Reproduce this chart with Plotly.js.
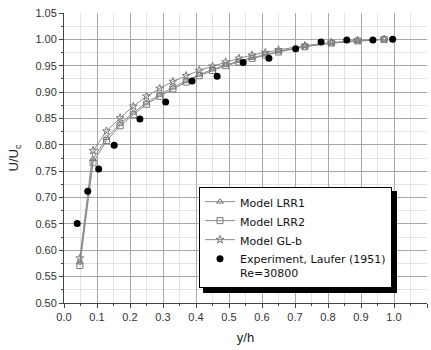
<!DOCTYPE html>
<html>
<head>
<meta charset="utf-8">
<script src="https://cdn.plot.ly/plotly-3.0.1.min.js"></script>
<style>
  html, body { margin: 0; padding: 0; background: #fff; }
  #chart { width: 431px; height: 350px; }
</style>
</head>
<body>
<div id="chart"></div>
<script>
// Mean velocity profile U/Uc across the channel half-height y/h
const modelY = [0.048, 0.088, 0.129, 0.17, 0.21, 0.25, 0.29, 0.33, 0.37, 0.41, 0.45, 0.49, 0.53, 0.57, 0.61, 0.65, 0.73, 0.81, 0.89, 0.97];
const lrr1U  = [0.577, 0.773, 0.813, 0.840, 0.861, 0.880, 0.895, 0.909, 0.921, 0.933, 0.943, 0.951, 0.959, 0.965, 0.971, 0.977, 0.987, 0.993, 0.997, 1.000];
const lrr2U  = [0.571, 0.766, 0.808, 0.836, 0.857, 0.877, 0.892, 0.906, 0.919, 0.931, 0.941, 0.950, 0.957, 0.964, 0.970, 0.976, 0.986, 0.993, 0.997, 1.000];
const glbU   = [0.585, 0.789, 0.826, 0.851, 0.873, 0.892, 0.907, 0.920, 0.931, 0.941, 0.949, 0.957, 0.964, 0.970, 0.975, 0.980, 0.988, 0.994, 0.998, 1.000];

// Laufer (1951) measurements, Re = 30800
const expY = [0.04, 0.072, 0.105, 0.152, 0.23, 0.308, 0.388, 0.464, 0.543, 0.621, 0.702, 0.779, 0.857, 0.936, 0.996];
const expU = [0.651, 0.712, 0.754, 0.799, 0.849, 0.881, 0.921, 0.930, 0.956, 0.964, 0.982, 0.995, 0.999, 0.999, 1.000];

const names = ['Model LRR1', 'Model LRR2', 'Model GL-b', 'Experiment, Laufer (1951)<br>Re=30800'];
const xTicks = [0, 0.1, 0.2, 0.3, 0.4, 0.5, 0.6, 0.7, 0.8, 0.9, 1.0, 1.1];
const yTicks = [0.50, 0.55, 0.60, 0.65, 0.70, 0.75, 0.80, 0.85, 0.90, 0.95, 1.00, 1.05];

function model(u, name, symbol) {
  return {
    x: modelY, y: u, name: name, type: 'scatter', mode: 'lines+markers',
    line: { color: '#8c8c8c', width: 1 },
    marker: { symbol: symbol, size: 6, color: '#7a7a7a' }
  };
}

const traces = [
  model(lrr1U, names[0], 'triangle-up-open'),
  model(lrr2U, names[1], 'square-open'),
  model(glbU, names[2], 'star-open'),
  {
    x: expY, y: expU, name: names[3], type: 'scatter', mode: 'markers',
    marker: { symbol: 'circle', size: 7, color: '#000000' }
  }
];

// plot area in pixels: left 64, right 427, top 13, bottom 303
const plotL = 64, plotT = 13, plotW = 363, plotH = 290;
const px = v => (v - plotL) / plotW;
const py = v => (plotT + plotH - v) / plotH;

// legend frame (pixels) and its drop shadow offset; the legend is drawn over the shadow
const legL = 199, legT = 187, legR = 393, legB = 289, shadow = 4;

const layout = {
  width: 431, height: 350,
  margin: { l: 64, r: 4, t: 13, b: 47 },
  paper_bgcolor: '#ffffff', plot_bgcolor: '#ffffff',
  font: { family: 'Liberation Sans, Arial, sans-serif', color: '#222' },
  showlegend: true,
  legend: {
    x: px(legL), y: py(legT), xanchor: 'left', yanchor: 'top',
    bgcolor: '#ffffff', bordercolor: '#000000', borderwidth: 1,
    font: { family: 'DejaVu Sans, sans-serif', size: 11, color: '#111' }, valign: 'top',
    tracegroupgap: 0, itemwidth: 30
  },
  xaxis: {
    range: [0, 1.1], tickvals: xTicks, tickformat: '.1f',
    showline: true, linecolor: '#444', linewidth: 1,
    ticks: 'outside', ticklen: 4, tickcolor: '#444',
    showgrid: true, gridcolor: '#a8a8a8', gridwidth: 1, zeroline: false,
    tickfont: { size: 11, color: '#333' },
    minor: { dtick: 0.05, showgrid: true, gridcolor: '#e4e4e4', ticks: 'outside', ticklen: 2, tickcolor: '#444' },
    title: { text: 'y/h', font: { size: 13, color: '#222' }, standoff: 10 }
  },
  yaxis: {
    range: [0.5, 1.05], tickvals: yTicks, tickformat: '.2f',
    showline: true, linecolor: '#444', linewidth: 1,
    ticks: 'outside', ticklen: 4, tickcolor: '#444',
    showgrid: true, gridcolor: '#a8a8a8', gridwidth: 1, zeroline: false,
    tickfont: { size: 11, color: '#333' },
    minor: { dtick: 0.025, showgrid: true, gridcolor: '#e4e4e4', ticks: 'outside', ticklen: 2, tickcolor: '#444' },
    title: { text: 'U/U<sub>c</sub>', font: { size: 13, color: '#222' }, standoff: 13 }
  },
  shapes: [
    { type: 'rect', xref: 'paper', yref: 'paper', layer: 'above',
      x0: px(legL + shadow), x1: px(legR + shadow),
      y0: py(legB + shadow), y1: py(legT + shadow),
      fillcolor: '#000000', line: { width: 0 } }
  ]
};

Plotly.newPlot('chart', traces, layout, { displayModeBar: false, staticPlot: true });
</script>
</body>
</html>
